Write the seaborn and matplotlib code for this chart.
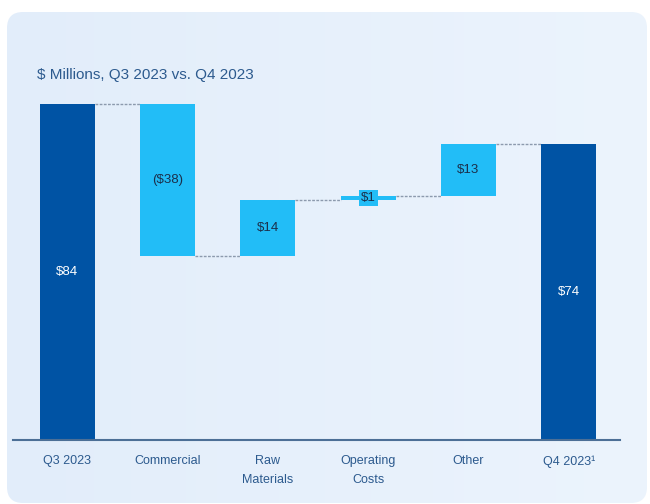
import numpy as np
import pandas as pd
import matplotlib
matplotlib.use("Agg")
import matplotlib.pyplot as plt
from matplotlib.patches import FancyBboxPatch
import seaborn as sns

# Bridge data: starting total, changes, ending total ($ millions)
categories = ["Q3 2023", "Commercial", "Raw\nMaterials", "Operating\nCosts", "Other", "Q4 2023\u00b9"]
changes = [84, -38, 14, 1, 13, 74]
value_labels = ["$84", "($38)", "$14", "$1", "$13", "$74"]
is_total = [True, False, False, False, False, True]

DARK = "#0053A4"
LIGHT = "#22BDF7"
TEXT_BLUE = "#2C5A8E"
NAVY = "#1B2F4B"

# Floating bar geometry derived from the running level
bottoms, heights, levels = [], [], []
level = 0
for v, total in zip(changes, is_total):
    if total:
        bottoms.append(0)
        heights.append(v)
        level = v
    else:
        new = level + v
        bottoms.append(min(level, new))
        heights.append(abs(v))
        level = new
    levels.append(level)

df = pd.DataFrame({"category": categories, "height": heights, "bottom": bottoms})

sns.set_style("white")
plt.rcParams["font.family"] = ["Liberation Sans Narrow", "Liberation Sans", "DejaVu Sans"]

W, H = 650, 504
fig = plt.figure(figsize=(W / 100, H / 100), dpi=100, facecolor="white")

# Rounded light-blue panel with a soft horizontal gradient
bg = fig.add_axes([0, 0, 1, 1], zorder=-10)
bg.set_xlim(0, W)
bg.set_ylim(H, 0)
bg.axis("off")
r = 16
x0, y0, x1, y1 = 7, 12, 647, 503
panel = FancyBboxPatch((x0 + r, y0 + r), (x1 - x0) - 2 * r, (y1 - y0) - 2 * r,
                       boxstyle=f"round,pad={r}", transform=bg.transData,
                       facecolor="none", edgecolor="none")
bg.add_patch(panel)
left_c = np.array([226, 237, 250]) / 255
right_c = np.array([236, 244, 253]) / 255
t = np.linspace(0, 1, 256)[None, :, None]
grad = left_c * (1 - t) + right_c * t
grad = np.repeat(grad, 2, axis=0)
im = bg.imshow(grad, extent=[0, W, H, 0], aspect="auto", interpolation="bilinear")
im.set_clip_path(panel)

ax = fig.add_axes([13 / W, (H - 440) / H, (620 - 13) / W, (440 - 100) / H])
ax.set_facecolor("none")

bar_w = 0.55
sns.barplot(data=df, x="category", y="height", order=categories,
            bottom=df["bottom"].values, width=bar_w, color=LIGHT,
            errorbar=None, saturation=1, ax=ax, zorder=3)
for patch, total in zip(ax.patches, is_total):
    patch.set_facecolor(DARK if total else LIGHT)
    patch.set_edgecolor("none")

# Dotted connectors between consecutive bars
for i in range(len(categories) - 1):
    ax.plot([i + bar_w / 2, i + 1 - bar_w / 2], [levels[i], levels[i]],
            color="#8C9AAD", lw=1.0, ls=(0, (2, 1)), zorder=2)

# Value labels centred in each bar
for i, (lab, b, h, total) in enumerate(zip(value_labels, bottoms, heights, is_total)):
    kw = {}
    if h < 3:
        kw["bbox"] = dict(boxstyle="square,pad=0.15", facecolor=LIGHT, edgecolor="none")
    ax.text(i, b + h / 2, lab, ha="center", va="center", fontsize=9.5,
            color="white" if total else NAVY, zorder=5, **kw)

ax.set_xlim(-0.54, 5.51)
ax.set_ylim(0, 85)
ax.set_xlabel("")
ax.set_ylabel("")
ax.set_yticks([])
ax.set_xticks(range(len(categories)), labels=categories, linespacing=1.75)
ax.tick_params(axis="x", length=0, pad=11, labelsize=9, labelcolor=TEXT_BLUE)
for s in ["top", "left", "right"]:
    ax.spines[s].set_visible(False)
ax.spines["bottom"].set_color("#4C6F96")
ax.spines["bottom"].set_linewidth(1.5)
ax.spines["bottom"].set_zorder(4)

fig.text(37 / W, (H - 79) / H, "$ Millions, Q3 2023 vs. Q4 2023", fontsize=11,
         color=TEXT_BLUE, ha="left", va="baseline")

fig.savefig("out.png", dpi=100, facecolor="white")
